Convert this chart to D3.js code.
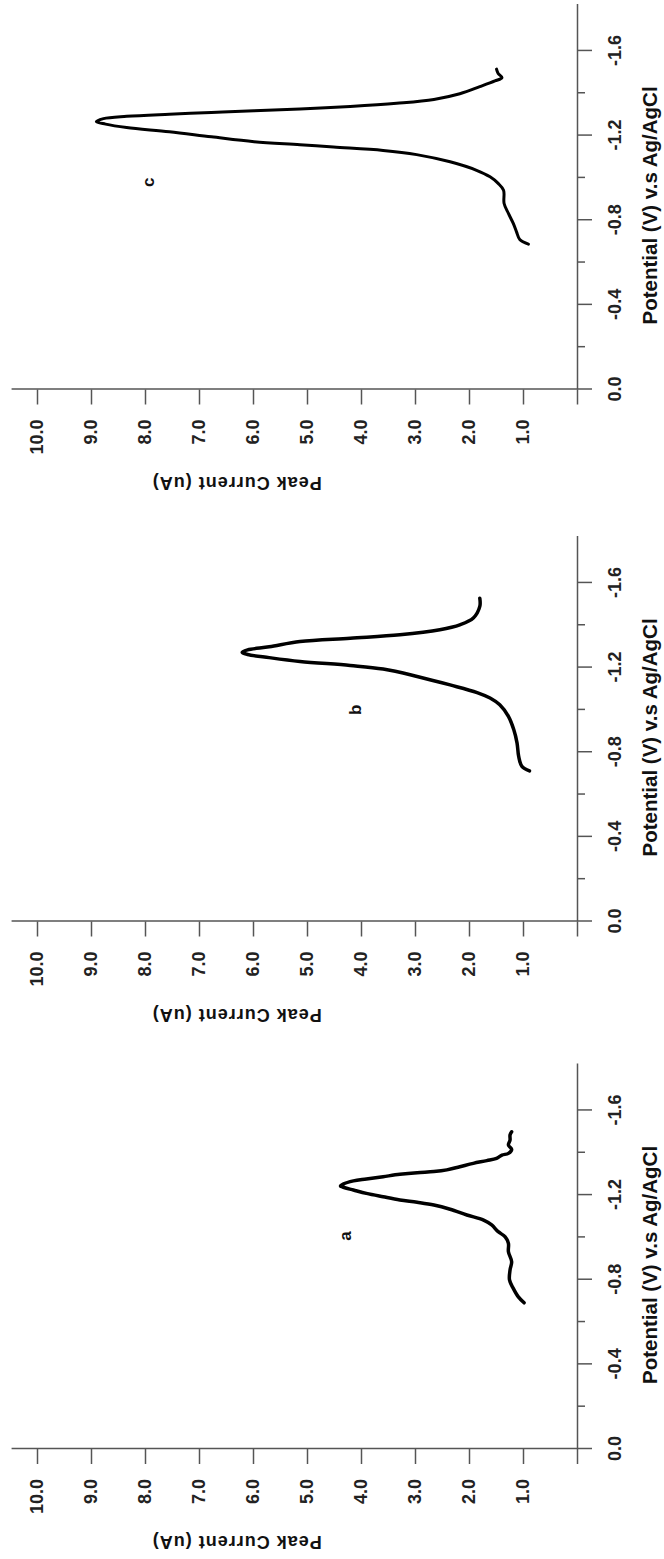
<!DOCTYPE html>
<html>
<head>
<meta charset="utf-8">
<script src="https://cdn.jsdelivr.net/npm/d3@7"></script>
<style>
  body { margin: 0; background: #fff; }
  svg { display: block; }
  .axis path, .axis line { stroke: #555; stroke-width: 1.5; }
  .axis text { font-family: "Liberation Sans", Arial, sans-serif; font-weight: bold; font-size: 18px; fill: #222; }
  .title { font-family: "Liberation Sans", Arial, sans-serif; font-weight: bold; fill: #111; }
</style>
</head>
<body>
<svg id="chart" width="664" height="1559"></svg>
<script>
// potential (V) vs peak current (uA), one array per voltammogram
const curveA = [[-0.691,0.98],[-0.72,1.09],[-0.759,1.18],[-0.799,1.25],[-0.846,1.24],[-0.885,1.21],[-0.932,1.27],[-0.972,1.27],[-1.003,1.33],[-1.027,1.46],[-1.059,1.58],[-1.082,1.73],[-1.106,2.04],[-1.133,2.35],[-1.153,2.65],[-1.166,2.96],[-1.177,3.28],[-1.192,3.59],[-1.208,3.90],[-1.224,4.14],[-1.237,4.33],[-1.243,4.38],[-1.252,4.33],[-1.267,4.14],[-1.276,3.90],[-1.287,3.59],[-1.298,3.28],[-1.306,2.96],[-1.311,2.65],[-1.319,2.41],[-1.334,2.17],[-1.350,1.92],[-1.363,1.67],[-1.374,1.49],[-1.389,1.39],[-1.397,1.27],[-1.416,1.21],[-1.437,1.27],[-1.460,1.24],[-1.484,1.24],[-1.499,1.21]];

const curveB = [[-0.712,0.88],[-0.733,1.02],[-0.780,1.08],[-0.843,1.11],[-0.906,1.17],[-0.969,1.27],[-1.024,1.43],[-1.056,1.61],[-1.082,1.85],[-1.118,2.35],[-1.158,2.96],[-1.193,3.59],[-1.210,4.20],[-1.229,5.13],[-1.247,5.70],[-1.262,6.10],[-1.272,6.20],[-1.284,6.10],[-1.298,5.70],[-1.323,5.13],[-1.339,4.20],[-1.355,3.28],[-1.379,2.54],[-1.402,2.17],[-1.434,1.92],[-1.489,1.80],[-1.528,1.80]];

const curveC = [[-0.687,0.90],[-0.709,1.06],[-0.745,1.12],[-0.785,1.18],[-0.832,1.27],[-0.879,1.35],[-0.942,1.36],[-0.974,1.46],[-1.005,1.61],[-1.036,1.86],[-1.076,2.35],[-1.110,2.97],[-1.130,3.59],[-1.146,4.51],[-1.157,5.13],[-1.171,5.98],[-1.194,6.77],[-1.218,7.55],[-1.238,8.34],[-1.254,8.73],[-1.266,8.90],[-1.280,8.77],[-1.291,8.34],[-1.301,7.55],[-1.309,6.77],[-1.317,5.98],[-1.326,5.13],[-1.338,4.20],[-1.353,3.34],[-1.371,2.65],[-1.398,2.17],[-1.431,1.80],[-1.458,1.52],[-1.474,1.39],[-1.493,1.46],[-1.514,1.49]];

const curves = [curveA, curveB, curveC];
const panelNames = ["a", "b", "c"];
const namePos = [[-1.007, 4.28], [-1.0, 4.1], [-0.98, 7.94]];   // [V, uA]

const potMajor = [0, -0.4, -0.8, -1.2, -1.6];
const potMinor = [-0.2, -0.6, -1.0, -1.4];
const curTicks = [0, 1, 2, 3, 4, 5, 6, 7, 8, 9, 10];

const xTitle = "Potential (V) v.s Ag/AgCl";
const yTitle = "Peak Current (uA)";

// the figure is printed turned a quarter turn, so draw it upright and rotate
const W = 664, H = 1559;
const svg = d3.select("#chart");
const g = svg.append("g").attr("transform", `translate(0,${H}) rotate(-90)`);

const panelX0 = [110, 637.5, 1169.5];
const pxPerV = 211.6;
const baseY = 577;

let line = d3.line().curve(d3.curveCatmullRom.alpha(0.5));

panelX0.forEach((x0, p) => {
  let x = d3.scaleLinear().domain([0, -1.82]).range([x0, x0 + 1.82 * pxPerV]);
  let y = d3.scaleLinear().domain([0, 10.48]).range([baseY, baseY - 10.48 * 54]);

  g.append("g").attr("class", "axis")
    .attr("transform", `translate(0,${baseY})`)
    .call(d3.axisBottom(x).tickValues(potMajor).tickSize(15).tickSizeOuter(0)
      .tickPadding(16).tickFormat(d => d.toFixed(1)));

  let minor = g.append("g").attr("class", "axis")
    .attr("transform", `translate(0,${baseY})`)
    .call(d3.axisBottom(x).tickValues(potMinor).tickSize(8).tickSizeOuter(0).tickFormat(""));
  minor.select(".domain").remove();

  g.append("g").attr("class", "axis")
    .attr("transform", `translate(${x0},0)`)
    .call(d3.axisLeft(y).tickValues(curTicks).tickSize(15).tickSizeOuter(0)
      .tickPadding(15).tickFormat(d => d ? d.toFixed(1) : ""));

  g.append("text").attr("class", "title")
    .attr("x", x(-0.87)).attr("y", 657)
    .attr("text-anchor", "middle")
    .style("font-size", "20.5px")
    .text(xTitle);

  g.append("text").attr("class", "title")
    .attr("transform", `translate(${x0 - 87},${y(6.3)}) rotate(-90)`)
    .attr("text-anchor", "middle")
    .style("font-size", "18px")
    .style("letter-spacing", "1px")
    .text(yTitle);

  g.append("path")
    .datum(curves[p])
    .attr("fill", "none")
    .attr("stroke", "#000")
    .attr("stroke-width", p == 2 ? 3 : 3.5)
    .attr("stroke-linejoin", "round")
    .attr("stroke-linecap", "round")
    .attr("d", line.x(d => x(d[0])).y(d => y(d[1])));

  g.append("text").attr("class", "title")
    .attr("x", x(namePos[p][0])).attr("y", y(namePos[p][1]))
    .attr("text-anchor", "middle")
    .attr("dominant-baseline", "central")
    .style("font-size", "17px")
    .text(panelNames[p]);
});
</script>
</body>
</html>
